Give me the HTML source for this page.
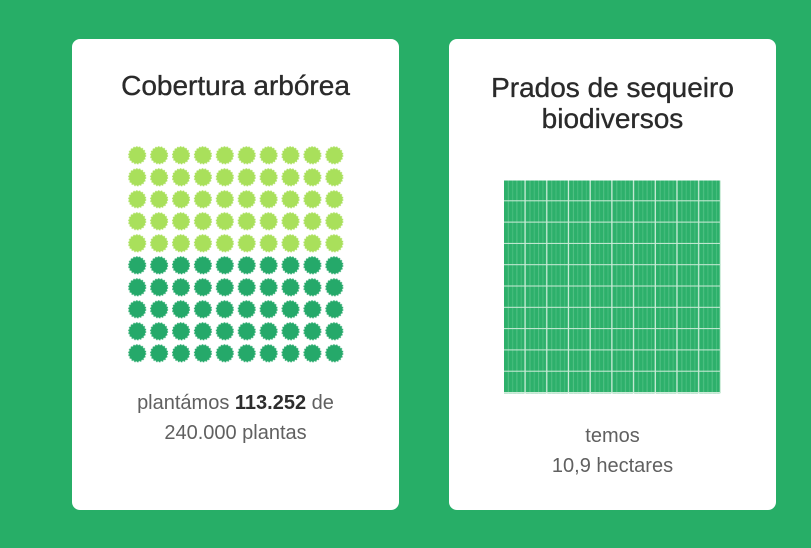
<!DOCTYPE html>
<html>
<head>
<meta charset="utf-8">
<style>
  html,body{margin:0;padding:0;}
  body{width:811px;height:548px;background:#27ae67;position:relative;overflow:hidden;font-family:"Liberation Sans",sans-serif;}
  .card{position:absolute;top:39px;width:327px;height:471px;background:#fff;border-radius:8px;}
  .title{position:absolute;left:0;width:100%;text-align:center;font-size:28px;line-height:30px;color:#2a2a2a;-webkit-text-stroke:0.35px #2a2a2a;}
  .body{position:absolute;left:0;width:100%;text-align:center;font-size:20px;line-height:30px;color:#606060;}
  .body b{color:#2e2e2e;font-weight:bold;}
  svg{position:absolute;left:0;top:0;}
</style>
</head>
<body>
<div class="card" style="left:72px;">
  <div class="title" style="top:32px;">Cobertura arbórea</div>
  <div class="body" style="top:349px;">plantámos <b>113.252</b> de<br>240.000 plantas</div>
</div>
<div class="card" style="left:449px;">
  <div class="title" style="top:33px;line-height:31px;">Prados de sequeiro<br>biodiversos</div>
  <div class="body" style="top:382px;">temos<br>10,9 hectares</div>
</div>

<svg width="811" height="548" viewBox="0 0 811 548">
  <defs>
    <pattern id="lightDots" patternUnits="userSpaceOnUse" x="126.25" y="144.3" width="21.9" height="22">
      <circle cx="10.95" cy="11" r="8.2" fill="#a9e05b"/>
      <circle cx="10.95" cy="11" r="8.4" fill="none" stroke="#a9e05b" stroke-width="1.3" stroke-dasharray="1.47 1.47"/>
    </pattern>
    <pattern id="darkDots" patternUnits="userSpaceOnUse" x="126.25" y="144.3" width="21.9" height="22">
      <circle cx="10.95" cy="11" r="8.2" fill="#25a96a"/>
      <circle cx="10.95" cy="11" r="8.4" fill="none" stroke="#25a96a" stroke-width="1.3" stroke-dasharray="1.47 1.47"/>
    </pattern>
    <pattern id="grid" patternUnits="userSpaceOnUse" x="504" y="180" width="21.7" height="21.3">
      <rect x="0" y="0" width="21.7" height="21.3" fill="#2db06b"/>
      <line x1="4.3" y1="0" x2="4.3" y2="21.3" stroke="#55c287" stroke-width="1"/>
      <line x1="8.6" y1="0" x2="8.6" y2="21.3" stroke="#48bd7e" stroke-width="1"/>
      <line x1="12.9" y1="0" x2="12.9" y2="21.3" stroke="#55c287" stroke-width="1"/>
      <line x1="17.2" y1="0" x2="17.2" y2="21.3" stroke="#48bd7e" stroke-width="1"/>
      <line x1="21.1" y1="0" x2="21.1" y2="21.3" stroke="#d2eedd" stroke-width="1.3"/>
      <line x1="0" y1="20.9" x2="21.7" y2="20.9" stroke="#cdecd9" stroke-width="1.3"/>
    </pattern>
  </defs>
  <rect x="126.25" y="144.3" width="219" height="110" fill="url(#lightDots)"/>
  <rect x="126.25" y="254.3" width="219" height="110" fill="url(#darkDots)"/>
  <rect x="504" y="180.5" width="217" height="212.8" fill="url(#grid)"/>
</svg>
</body>
</html>
